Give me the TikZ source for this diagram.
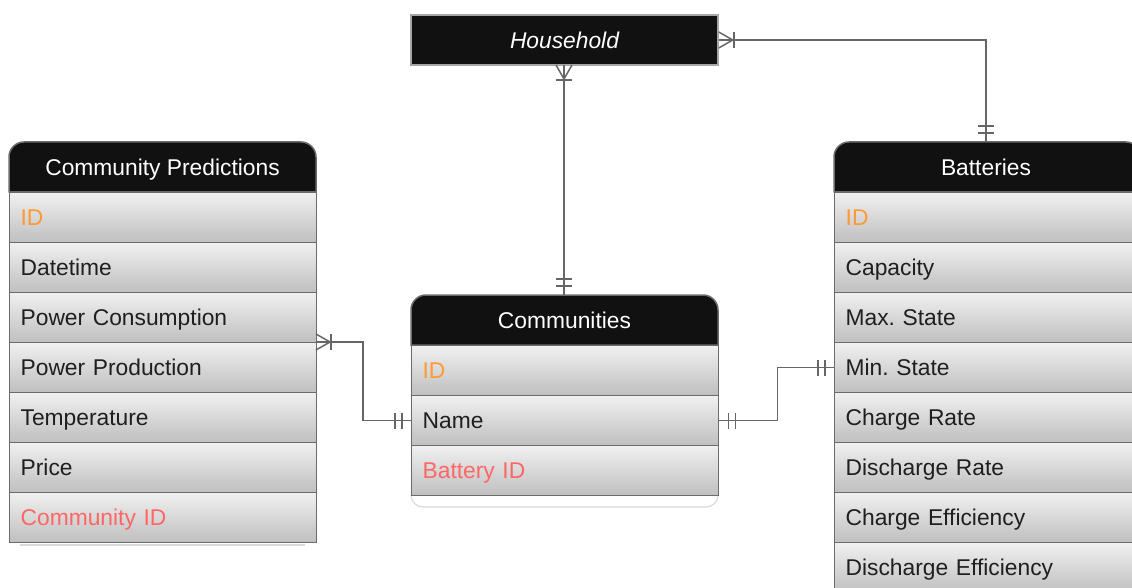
\documentclass[tikz,border=0pt]{standalone}
\usepackage{fontspec}
\setmainfont{Liberation Sans}
\usetikzlibrary{calc}
\definecolor{hdr}{HTML}{111111}
\definecolor{rowtop}{HTML}{F0F0F0}
\definecolor{rowbot}{HTML}{BFBFBF}
\definecolor{bd}{HTML}{6B6B6B}
\definecolor{lnk}{HTML}{666666}
\definecolor{pk}{HTML}{FF9933}
\definecolor{fk}{HTML}{FF6666}
\newcommand\rowfont{\fontsize{22.8}{27}\selectfont\frenchspacing}
\begin{document}
\begin{tikzpicture}[x=1pt,y=-1pt,
  row/.style={draw=bd, line width=1.3pt, top color=rowtop, bottom color=rowbot,
    minimum width=307pt, minimum height=50pt, text width=285pt, inner xsep=11pt,
    inner ysep=0pt, text height=16.3pt, text depth=0pt,
    align=left, anchor=north west, font=\rowfont, text=black!88},
  hdrtext/.style={text=white, font=\rowfont, inner sep=0pt, text height=16.3pt, text depth=0pt},
  hdrbox/.style={fill=hdr, draw=bd, line width=1.5pt},
  conn/.style={draw=lnk, line width=1.5pt}]
\useasboundingbox (0,0) rectangle (1132,588);
\clip (0,0) rectangle (1132,588);

% ---------- Household ----------
\node[fill=hdr, draw=gray!70, line width=1.5pt, minimum width=307pt, minimum height=50pt,
  inner sep=0pt, text height=16.3pt, text depth=0pt, text=white, font=\rowfont\itshape] (hh) at (564.5,40) {Household};

% ---------- Community Predictions ----------
\path[hdrbox] (9,192) [rounded corners=15pt] -- (9,142) -- (316,142) [sharp corners] -- (316,192) -- cycle;
\node[hdrtext] (cpH) at (162.5,167) {Community Predictions};
\draw[gray!30, line width=1.5pt] (20,545) -- (305,545);
\node[row] (cp1) at (9,192) {\textcolor{pk}{ID}};
\node[row] (cp2) at (9,242) {Datetime};
\node[row] (cp3) at (9,292) {Power Consumption};
\node[row] (cp4) at (9,342) {Power Production};
\node[row] (cp5) at (9,392) {Temperature};
\node[row] (cp6) at (9,442) {Price};
\node[row] (cp7) at (9,492) {\textcolor{fk}{Community ID}};

% ---------- Communities ----------
\draw[gray!30, line width=1.2pt] (411,495) [rounded corners=12pt] -- (411,507) -- (718,507) [sharp corners] -- (718,495);
\path[hdrbox] (411,345) [rounded corners=15pt] -- (411,295) -- (718,295) [sharp corners] -- (718,345) -- cycle;
\node[hdrtext] (cmH) at (564.5,320) {Communities};
\node[row] (cm1) at (411,345) {\textcolor{pk}{ID}};
\node[row] (cm2) at (411,395) {Name};
\node[row] (cm3) at (411,445) {\textcolor{fk}{Battery ID}};

% ---------- Batteries ----------
\path[hdrbox] (834,192) [rounded corners=15pt] -- (834,142) -- (1141,142) [sharp corners] -- (1141,192) -- cycle;
\node[hdrtext] (btH) at (986,167) {Batteries};
\node[row] (bt1) at (834,192) {\textcolor{pk}{ID}};
\node[row] (bt2) at (834,242) {Capacity};
\node[row] (bt3) at (834,292) {Max. State};
\node[row] (bt4) at (834,342) {Min. State};
\node[row] (bt5) at (834,392) {Charge Rate};
\node[row] (bt6) at (834,442) {Discharge Rate};
\node[row] (bt7) at (834,492) {Charge Efficiency};
\node[row] (bt8) at (834,542) {Discharge Efficiency};

% ---------- connectors ----------
\coordinate (hhB) at (564,65);
\coordinate (cmT) at (564,295);
\coordinate (btT) at (986,142);
\coordinate (cpR) at (316,342);

% Household -- Communities
\draw[conn] (hhB) -- (cmT);
\draw[conn] ($(hhB)+(-8,0)$) -- ($(hhB)+(0,14)$) -- ($(hhB)+(8,0)$);
\draw[conn] ($(hhB)+(-8,15)$) -- ($(hhB)+(8,15)$);
\draw[conn] ($(cmT)+(-8,-9)$) -- ($(cmT)+(8,-9)$);
\draw[conn] ($(cmT)+(-8,-16)$) -- ($(cmT)+(8,-16)$);

% Household -- Batteries
\draw[conn] (hh.east) -| (btT);
\draw[conn] ($(hh.east)+(0,-8)$) -- ($(hh.east)+(14,0)$) -- ($(hh.east)+(0,8)$);
\draw[conn] ($(hh.east)+(15,-8)$) -- ($(hh.east)+(15,8)$);
\draw[conn] ($(btT)+(-8,-9)$) -- ($(btT)+(8,-9)$);
\draw[conn] ($(btT)+(-8,-16)$) -- ($(btT)+(8,-16)$);

% Community Predictions -- Communities
\draw[conn] (cpR) -- ++(47,0) |- (cm2.west);
\draw[conn] ($(cpR)+(0,-8)$) -- ($(cpR)+(14,0)$) -- ($(cpR)+(0,8)$);
\draw[conn] ($(cpR)+(15,-8)$) -- ($(cpR)+(15,8)$);
\draw[conn] ($(cm2.west)+(-9,-8)$) -- ($(cm2.west)+(-9,8)$);
\draw[conn] ($(cm2.west)+(-16,-8)$) -- ($(cm2.west)+(-16,8)$);

% Communities -- Batteries
\draw[conn] (cm2.east) -- ++(58,0) |- (bt4.west);
\draw[conn] ($(cm2.east)+(9,-8)$) -- ($(cm2.east)+(9,8)$);
\draw[conn] ($(cm2.east)+(16,-8)$) -- ($(cm2.east)+(16,8)$);
\draw[conn] ($(bt4.west)+(-9,-8)$) -- ($(bt4.west)+(-9,8)$);
\draw[conn] ($(bt4.west)+(-16,-8)$) -- ($(bt4.west)+(-16,8)$);
\end{tikzpicture}
\end{document}
